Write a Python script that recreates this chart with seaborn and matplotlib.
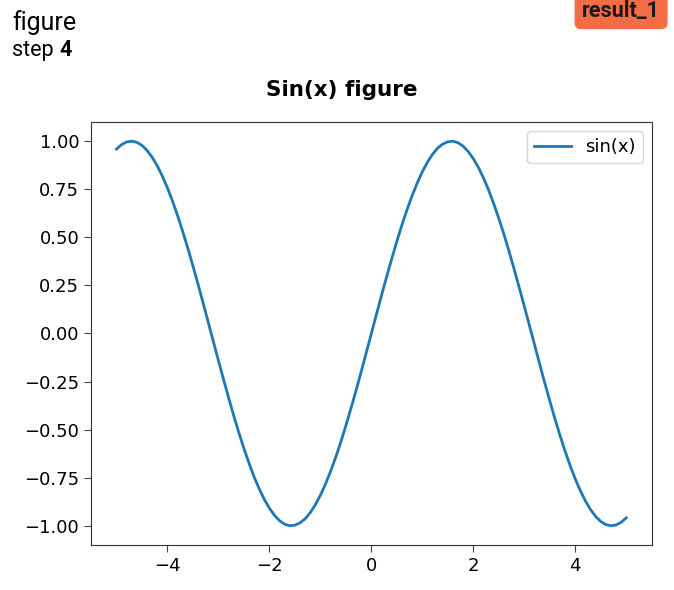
import matplotlib
matplotlib.use("Agg")
import matplotlib.pyplot as plt
import seaborn as sns
import pandas as pd

# Values
x_vals = [-5.0, -4.9, -4.8, -4.7, -4.6, -4.5, -4.4, -4.3, -4.2, -4.1,
          -4.0, -3.9, -3.8, -3.7, -3.6, -3.5, -3.4, -3.3, -3.2, -3.1,
          -3.0, -2.9, -2.8, -2.7, -2.6, -2.5, -2.4, -2.3, -2.2, -2.1,
          -2.0, -1.9, -1.8, -1.7, -1.6, -1.5, -1.4, -1.3, -1.2, -1.1,
          -1.0, -0.9, -0.8, -0.7, -0.6, -0.5, -0.4, -0.3, -0.2, -0.1,
          0.0, 0.1, 0.2, 0.3, 0.4, 0.5, 0.6, 0.7, 0.8, 0.9,
          1.0, 1.1, 1.2, 1.3, 1.4, 1.5, 1.6, 1.7, 1.8, 1.9,
          2.0, 2.1, 2.2, 2.3, 2.4, 2.5, 2.6, 2.7, 2.8, 2.9,
          3.0, 3.1, 3.2, 3.3, 3.4, 3.5, 3.6, 3.7, 3.8, 3.9,
          4.0, 4.1, 4.2, 4.3, 4.4, 4.5, 4.6, 4.7, 4.8, 4.9, 5.0]
y_vals = [0.959, 0.982, 0.996, 1.000, 0.994, 0.978, 0.952, 0.916, 0.872, 0.818,
          0.757, 0.688, 0.612, 0.530, 0.443, 0.351, 0.256, 0.158, 0.058, -0.042,
          -0.141, -0.239, -0.335, -0.427, -0.516, -0.598, -0.675, -0.746, -0.808, -0.863,
          -0.909, -0.946, -0.974, -0.992, -1.000, -0.997, -0.985, -0.964, -0.932, -0.891,
          -0.841, -0.783, -0.717, -0.644, -0.565, -0.479, -0.389, -0.296, -0.199, -0.100,
          0.000, 0.100, 0.199, 0.296, 0.389, 0.479, 0.565, 0.644, 0.717, 0.783,
          0.841, 0.891, 0.932, 0.964, 0.985, 0.997, 1.000, 0.992, 0.974, 0.946,
          0.909, 0.863, 0.808, 0.746, 0.675, 0.598, 0.516, 0.427, 0.335, 0.239,
          0.141, 0.042, -0.058, -0.158, -0.256, -0.351, -0.443, -0.530, -0.612, -0.688,
          -0.757, -0.818, -0.872, -0.916, -0.952, -0.978, -0.994, -1.000, -0.996, -0.982, -0.959]
x_ticks = [-4, -2, 0, 2, 4]
series_label = "sin(x)"
title = "Sin(x) figure"

df = pd.DataFrame({"x": x_vals, "y": y_vals, "s": series_label})

fig = plt.figure(figsize=(6.74, 5.9), dpi=100)
ax = fig.add_axes([0.135, 0.0763, 0.832, 0.717])
sns.lineplot(data=df, x="x", y="y", hue="s", palette=["#1f77b4"], ax=ax, linewidth=2.0)
ax.set_xlabel("")
ax.set_ylabel("")
ax.set_xticks(x_ticks)
ax.tick_params(labelsize=13, length=5, color="#444444")
for sp in ax.spines.values():
    sp.set_color("#333333")
leg = ax.legend(loc="upper right", fontsize=13, borderpad=0.4)
leg.set_title(None)

fig.suptitle(title, fontsize=15.5, fontweight="bold", x=0.507, y=0.847, va="center")

# Header texts
fig.text(0.018, 0.949, "figure", fontsize=18, family="Roboto", va="baseline")
t_step = fig.text(0.018, 0.905, "step ", fontsize=15.5, family="Roboto", va="baseline")
fig.canvas.draw()
bb = t_step.get_window_extent()
fig.text(bb.x1 / fig.bbox.width, 0.905, "4", fontsize=15.5, family="Roboto",
         fontweight="bold", va="baseline")

# Badge in the top-right corner
fig.text(0.9215, 0.982, "result_1", fontsize=15.5, family="Roboto", fontweight="bold",
         ha="center", va="center", color="#1a1a1a",
         bbox=dict(boxstyle="round,pad=0.35,rounding_size=0.3", fc="#f36c45", ec="none"))

fig.savefig("out.png", dpi=100)
